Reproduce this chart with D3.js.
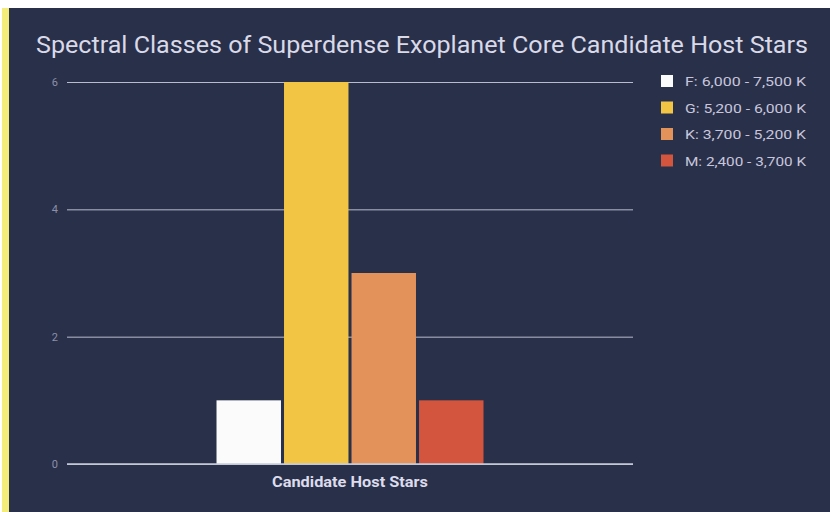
<!DOCTYPE html>
<html>
<head>
<meta charset="utf-8">
<script src="https://cdn.jsdelivr.net/npm/d3@7"></script>
<style>
  html, body { margin: 0; padding: 0; background: #ffffff; }
  svg { display: block; }
</style>
</head>
<body>
<svg id="chart" width="830" height="512"></svg>
<script>
// Spectral class counts of the candidate host stars
const classes = ["F: 6,000 - 7,500 K", "G: 5,200 - 6,000 K", "K: 3,700 - 5,200 K", "M: 2,400 - 3,700 K"];
const counts = [1, 6, 3, 1];
const colors = ["#fbfbfb", "#f3c544", "#e3935a", "#d4553d"];
const groupName = ["Candidate Host Stars"];
const yTicks = [0, 2, 4, 6];

const svg = d3.select("#chart");
const W = 830, H = 512;
const FONT = "Roboto, Arial, sans-serif";

// page frame: light strip on top, yellow edge on the left, dark panel
svg.append("rect").attr("x", 0).attr("y", 0).attr("width", W).attr("height", H).attr("fill", "#ffffff");
svg.append("rect").attr("x", 2).attr("y", 8).attr("width", 8).attr("height", H - 8).attr("fill", "#f4ec7a");
svg.append("rect").attr("x", 9).attr("y", 8).attr("width", W - 9).attr("height", H - 8).attr("fill", "#29304a");

const plot = { left: 67, right: 633, top: 82, bottom: 464 };

const y = d3.scaleLinear().domain([0, 6]).range([plot.bottom, plot.top]);
const x0 = d3.scaleBand().domain(groupName).range([plot.left, plot.right]).paddingInner(0).paddingOuter(0.56);
const x1 = d3.scaleBand().domain(classes).range([0, x0.bandwidth()]).paddingInner(0.045);

// gridlines and y tick labels
const yAxis = d3.axisLeft(y).tickValues(yTicks).tickFormat(d3.format("d"))
  .tickSize(-(plot.right - plot.left)).tickPadding(9);
const gy = svg.append("g").attr("transform", `translate(${plot.left},0)`).call(yAxis);
gy.select(".domain").remove();
gy.selectAll(".tick line").attr("stroke", "#b9bccd").attr("stroke-width", 1);
gy.selectAll(".tick text")
  .attr("fill", "#8c8fa8")
  .attr("font-family", FONT)
  .attr("font-size", 11);

// bars
const g = svg.append("g").attr("transform", `translate(${x0(groupName[0])},0)`);
g.selectAll("rect.bar")
  .data(classes.map((c, i) => ({ c, v: counts[i], col: colors[i] })))
  .join("rect")
  .attr("class", "bar")
  .attr("x", d => x1(d.c))
  .attr("y", d => y(d.v))
  .attr("width", x1.bandwidth())
  .attr("height", d => y(0) - y(d.v))
  .attr("fill", d => d.col);

// baseline
svg.append("line")
  .attr("x1", plot.left).attr("x2", plot.right)
  .attr("y1", y(0)).attr("y2", y(0))
  .attr("stroke", "#c9cbd9").attr("stroke-width", 1.5);

// category label
svg.append("text")
  .attr("x", x0(groupName[0]) + x0.bandwidth() / 2)
  .attr("y", 487)
  .attr("text-anchor", "middle")
  .attr("fill", "#dcdcec")
  .attr("font-family", FONT)
  .attr("font-weight", "bold")
  .attr("font-size", 14)
  .attr("textLength", 156)
  .attr("lengthAdjust", "spacingAndGlyphs")
  .text(groupName[0]);

// title
svg.append("text")
  .attr("x", 36)
  .attr("y", 53)
  .attr("fill", "#d9d9e8")
  .attr("font-family", FONT)
  .attr("font-size", 24)
  .attr("textLength", 772)
  .attr("lengthAdjust", "spacingAndGlyphs")
  .text("Spectral Classes of Superdense Exoplanet Core Candidate Host Stars");

// legend
const legend = svg.append("g").attr("transform", "translate(661,75)");
const items = legend.selectAll("g.item")
  .data(classes)
  .join("g")
  .attr("class", "item")
  .attr("transform", (d, i) => `translate(0,${i * 26.5})`);
items.append("rect")
  .attr("width", 12).attr("height", 12)
  .attr("fill", (d, i) => colors[i]);
items.append("text")
  .attr("x", 24).attr("y", 11)
  .attr("fill", "#c8c6dc")
  .attr("font-family", FONT)
  .attr("font-size", 12)
  .attr("textLength", 121)
  .attr("lengthAdjust", "spacingAndGlyphs")
  .text(d => d);
</script>
</body>
</html>
